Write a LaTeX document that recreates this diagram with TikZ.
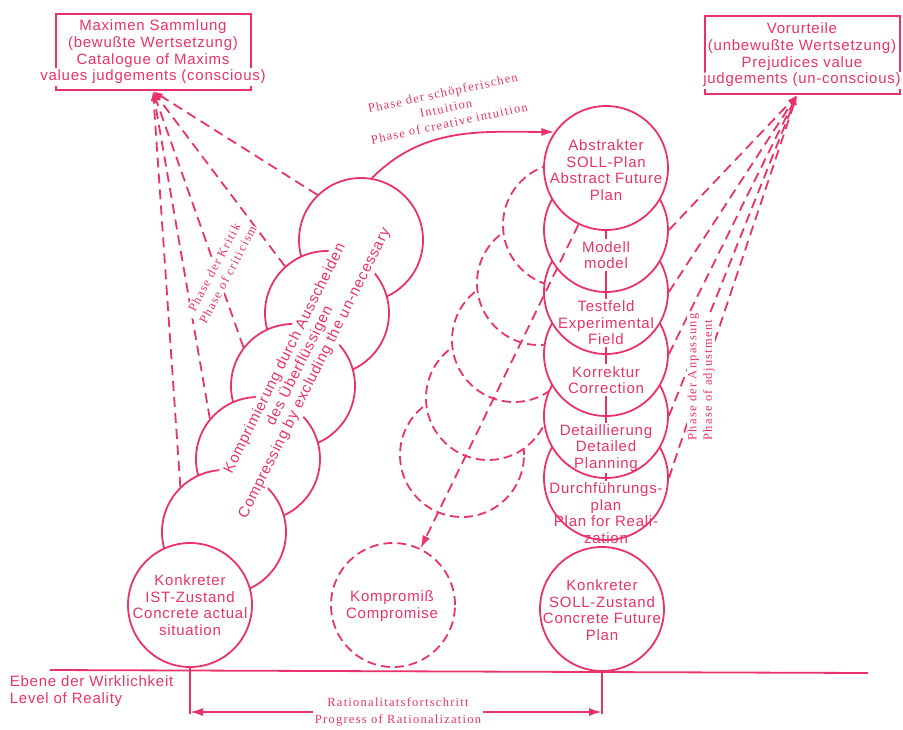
\documentclass[tikz,border=0pt]{standalone}
\usepackage{fontspec}
\setmainfont{Liberation Sans}
\newfontfamily\diasans[LetterSpace=5]{Liberation Sans}
\newfontfamily\diaserif[LetterSpace=10]{Liberation Serif}
\usetikzlibrary{arrows.meta}
\definecolor{ink}{RGB}{233,51,104}
\tikzset{
  boxtext/.style={font=\diasans\fontsize{15}{16.6}\selectfont, align=center, inner sep=1pt},
  phasetext/.style={font=\diaserif\fontsize{12.5}{15.5}\selectfont, align=center, inner sep=1pt},
  ring/.style={circle, draw=ink, fill=white, minimum size=124pt, inner sep=0pt},
  dashring/.style={ring, dash pattern=on 9pt off 5pt},
  dashline/.style={dash pattern=on 10pt off 6pt},
  headtip/.style={-{Latex[length=10pt,width=6pt]}},
  bigtip/.style={-{Latex[length=13pt,width=8pt]}},
}
\begin{document}
\begin{tikzpicture}[x=1pt, y=1pt, line width=1.8pt, color=ink]
\useasboundingbox (0,0) rectangle (903,-729);

% value boxes
\node[boxtext] (maxbox) at (153,-52) {Maximen Sammlung\\(bewußte Wertsetzung)\\Catalogue of Maxims\\values judgements (conscious)};
\draw (56,-68) -- (56,-14) -- (251,-14) -- (251,-68);
\draw (56,-86) -- (56,-90) -- (251,-90) -- (251,-86);
\node[boxtext] (vorbox) at (802,-55) {Vorurteile\\(unbewußte Wertsetzung)\\Prejudices value\\judgements (un-conscious)};
\draw (705,-72) -- (705,-16) -- (900,-16) -- (900,-72);
\draw (705,-89) -- (705,-94) -- (900,-94) -- (900,-89);
\coordinate (maxtip) at (153,-91);
\coordinate (vortip) at (797,-95);

% dashed alternative chain
\foreach \n/\x/\y in {5/462/455, 4/488/398, 3/514/340, 2/539/283, 1/565/225}
  \node[dashring] (alt\n) at (\x,-\y) {};
\node[dashring] (komp) at (393,-605) {};
\node[boxtext] (kompT) at (392,-606) {Kompromiß\\Compromise};

% planning column, upper circles in front
\node[ring] (durch) at (606,-478) {};
\node[boxtext] (durchT) at (606,-513) {Durchführungs-\\plan\\Plan for Reali-\\zation};
\node[ring] (detail) at (606,-416) {};
\node[boxtext] (detailT) at (606,-448) {Detaillierung\\Detailed\\Planning};
\node[ring] (korr) at (606,-354) {};
\node[boxtext] (korrT) at (606,-380) {Korrektur\\Correction};
\node[ring] (testfeld) at (606,-292) {};
\node[boxtext] (testT) at (606,-323) {Testfeld\\Experimental\\Field};
\node[ring] (modell) at (606,-230) {};
\node[boxtext] (modellT) at (606,-255) {Modell\\model};
\node[ring] (abst) at (606,-168) {};
\node[boxtext] (abstT) at (606,-170) {Abstrakter\\SOLL-Plan\\Abstract Future\\Plan};
\draw (abst.south) -- (modellT.north);
\draw (modellT) -- (testT);
\draw (testT) -- (korrT);
\draw (korrT) -- (detailT);
\draw (detailT) -- (durchT);

\node[ring] (sollz) at (602,-609) {};
\node[boxtext] (sollzT) at (602,-610) {Konkreter\\SOLL-Zustand\\Concrete Future\\Plan};

% compression chain, lower circles in front
\foreach \n/\x/\y in {5/361/240, 4/327/313, 3/293/386, 2/258/459, 1/224/532}
  \node[ring] (comp\n) at (\x,-\y) {};
\node[ring] (ist) at (190,-605) {};
\node[boxtext] (istT) at (190,-605) {Konkreter\\IST-Zustand\\Concrete actual\\situation};
\node[boxtext, fill=white, rotate=63.5, inner sep=2pt] (compT) at (300,-366) {Komprimierung durch Ausscheiden\\des Überflüssigen\\Compressing by excluding the un-necessary};

% criticism
\foreach \n/\a in {5/134, 4/132, 3/142, 2/140, 1/134}
  \draw[dashline, headtip] (comp\n.\a) -- (maxtip);
\node[phasetext, fill=white, rotate=62] (crit) at (221,-271) {Phase der Kritik\\Phase of criticism};

% adjustment
\foreach \n in {modell, testfeld, korr, detail, durch}
  \draw[dashline, headtip] (\n.east) -- (vortip);
\node[phasetext, fill=white, rotate=90, align=left] (adj) at (701,-377) {Phase der Anpassung\\Phase of adjustment};

% creative intuition
\draw[bigtip] (comp5.80) to[out=45, in=180] (abst.145);
\node[phasetext, rotate=12] (intu) at (446,-108) {Phase der schöpferischen\\Intuition\\Phase of creative intuition};
\draw[dashline, bigtip] (abst) -- (komp);

% level of reality
\draw (50,-670) -- (868,-673);
\node[boxtext, align=left, anchor=west] (level) at (8,-691) {Ebene der Wirklichkeit\\Level of Reality};
\node[phasetext, font=\diaserif\fontsize{12.5}{16.5}\selectfont] (rat) at (398,-712) {Rationalitatsfortschritt\\Progress of Rationalization};
\coordinate (istfoot) at (ist.south |- rat.west);
\coordinate (sollfoot) at (sollz.south |- rat.east);
\draw (ist.south) -- ([yshift=-2pt]istfoot);
\draw[bigtip] (rat.west) -- (istfoot);
\draw (sollz.south) -- ([yshift=-2pt]sollfoot);
\draw[bigtip] (rat.east) -- (sollfoot);
\end{tikzpicture}
\end{document}
